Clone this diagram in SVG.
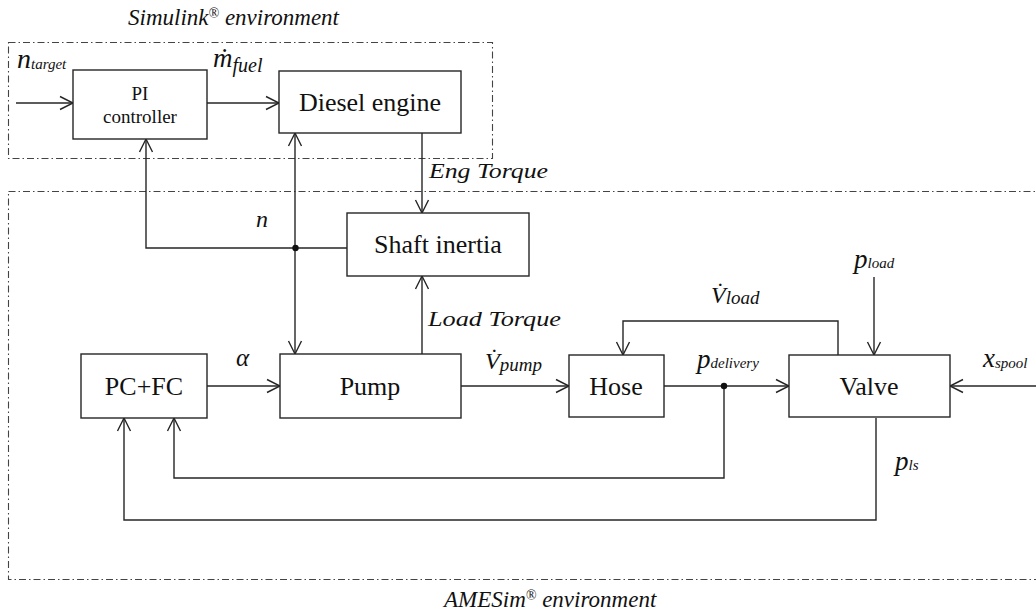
<svg xmlns="http://www.w3.org/2000/svg" width="1036" height="612" viewBox="0 0 1036 612">
<style>
.box{fill:#fff;stroke:#262626;stroke-width:1.4}
.env{fill:none;stroke:#444;stroke-width:1.1;stroke-dasharray:7 3 1.5 3}
.ln{fill:none;stroke:#262626;stroke-width:1.4}
.blk{font-family:'Liberation Serif','DejaVu Serif',serif;fill:#111;text-anchor:middle}
.it{font-family:'Liberation Serif','DejaVu Serif',serif;font-style:italic;fill:#111}
.sub{font-size:15px}
</style>
<defs>
<marker id="a" markerUnits="userSpaceOnUse" markerWidth="16" markerHeight="16" refX="14" refY="8" orient="auto">
<path d="M1,1.5 L14,8 L1,14.5" fill="none" stroke="#262626" stroke-width="1.4"/>
</marker>
</defs>
<rect fill="#fff" width="1036" height="612"/>
<g id="environments">
<rect class="env" x="8.5" y="42.5" width="484" height="116"/>
<rect class="env" x="8.5" y="191.5" width="1040" height="388"/>
<text class="it" x="128" y="25" font-size="23">Simulink<tspan font-size="14" dy="-7">®</tspan><tspan dy="7"> environment</tspan></text>
<text class="it" x="444" y="607" font-size="23">AMESim<tspan font-size="14" dy="-7">®</tspan><tspan dy="7"> environment</tspan></text>
</g>
<g id="connectors">
<path class="ln" d="M16,103 H73" marker-end="url(#a)"/>
<path class="ln" d="M207,103 H279" marker-end="url(#a)"/>
<path class="ln" d="M295,248 V133" marker-end="url(#a)"/>
<path class="ln" d="M295,248 V354" marker-end="url(#a)"/>
<path class="ln" d="M347,248 H146 V139" marker-end="url(#a)"/>
<path class="ln" d="M422,133 V213" marker-end="url(#a)"/>
<path class="ln" d="M422,354 V276" marker-end="url(#a)"/>
<path class="ln" d="M207,386 H280" marker-end="url(#a)"/>
<path class="ln" d="M461,386 H569" marker-end="url(#a)"/>
<path class="ln" d="M664,386 H789" marker-end="url(#a)"/>
<path class="ln" d="M838,355 V321 H623 V355" marker-end="url(#a)"/>
<path class="ln" d="M874,277 V355" marker-end="url(#a)"/>
<path class="ln" d="M1036,386 H950" marker-end="url(#a)"/>
<path class="ln" d="M724,386 V478 H174 V418" marker-end="url(#a)"/>
<path class="ln" d="M876,418 V520 H124 V418" marker-end="url(#a)"/>
<circle cx="295.5" cy="248" r="3.2" fill="#111"/>
<circle cx="724" cy="386" r="3.2" fill="#111"/>
</g>
<g id="labels">
<text class="it" x="17" y="68" font-size="28">n<tspan class="sub" dy="1">target</tspan></text>
<text class="it" x="213" y="67" font-size="27">ṁ<tspan font-size="20" dy="5">fuel</tspan></text>
<text class="it" x="429" y="178" font-size="22" textLength="119" lengthAdjust="spacingAndGlyphs">Eng Torque</text>
<text class="it" x="256" y="227" font-size="24">n</text>
<text class="it" x="428" y="326" font-size="22" textLength="133" lengthAdjust="spacingAndGlyphs">Load Torque</text>
<text class="it" x="236" y="366" font-size="25">α</text>
<text class="it" x="485" y="369" font-size="24">V̇<tspan font-size="19" dy="2">pump</tspan></text>
<text class="it" x="697" y="368" font-size="27">p<tspan class="sub" dy="0">delivery</tspan></text>
<text class="it" x="711" y="303" font-size="24">V̇<tspan font-size="19" dy="1">load</tspan></text>
<text class="it" x="854" y="268" font-size="27">p<tspan class="sub" dy="0">load</tspan></text>
<text class="it" x="983" y="367" font-size="27">x<tspan class="sub" dy="1">spool</tspan></text>
<text class="it" x="895" y="470" font-size="27">p<tspan class="sub" dy="0">ls</tspan></text>
</g>
<g id="pi-controller">
<rect class="box" x="73" y="70" width="134" height="69"/>
<text class="blk" x="140" y="100" font-size="19">PI</text>
<text class="blk" x="140" y="123" font-size="19">controller</text>
</g>
<g id="diesel-engine">
<rect class="box" x="279" y="71" width="182" height="62"/>
<text class="blk" x="370" y="111" font-size="26">Diesel engine</text>
</g>
<g id="shaft-inertia">
<rect class="box" x="347" y="213" width="182" height="63"/>
<text class="blk" x="438" y="253" font-size="26">Shaft inertia</text>
</g>
<g id="pc-fc">
<rect class="box" x="81" y="354" width="126" height="64"/>
<text class="blk" x="144" y="395" font-size="26">PC+FC</text>
</g>
<g id="pump">
<rect class="box" x="280" y="354" width="181" height="64"/>
<text class="blk" x="370" y="395" font-size="26">Pump</text>
</g>
<g id="hose">
<rect class="box" x="569" y="355" width="95" height="62"/>
<text class="blk" x="616" y="395" font-size="26">Hose</text>
</g>
<g id="valve">
<rect class="box" x="789" y="355" width="161" height="62"/>
<text class="blk" x="869" y="395" font-size="26">Valve</text>
</g>
</svg>
